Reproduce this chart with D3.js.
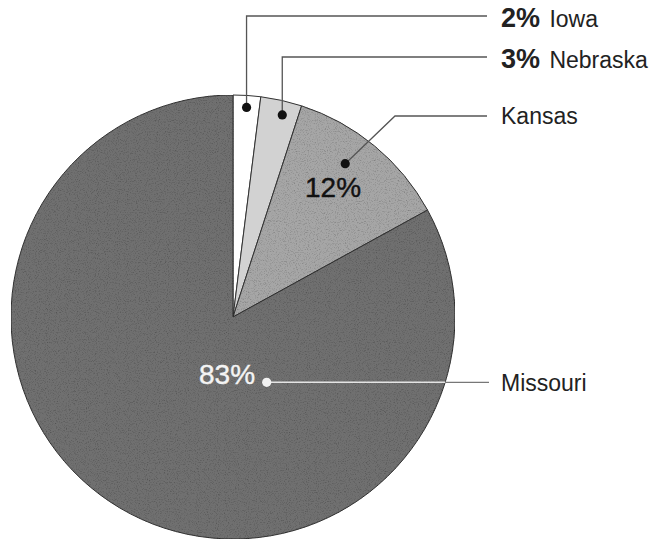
<!DOCTYPE html>
<html>
<head>
<meta charset="utf-8">
<script src="https://cdn.jsdelivr.net/npm/d3@7"></script>
<style>
  body { margin: 0; background: #fff; }
  text { font-family: "Liberation Sans", Arial, sans-serif; }
</style>
</head>
<body>
<div id="chart"></div>
<script>
// Data
const states = ["Iowa", "Nebraska", "Kansas", "Missouri"];
const shares = [2, 3, 12, 83];
const fills = ["#ffffff", "#d2d2d2", "#a6a6a6", "#6f6f6f"];

const width = 654, height = 542;
const cx = 233, cy = 317, radius = 222;

const svg = d3.select("#chart").append("svg")
    .attr("width", width)
    .attr("height", height);

const data = states.map((s, i) => ({ state: s, value: shares[i], fill: fills[i] }));

const pie = d3.pie().sort(null).value(d => d.value);
const arc = d3.arc().innerRadius(0).outerRadius(radius);
const arcs = pie(data);

// paper-like grain for the printed look
const defs = svg.append("defs");
const grain = defs.append("filter").attr("id", "grain").attr("x", 0).attr("y", 0).attr("width", 1).attr("height", 1);
grain.append("feTurbulence").attr("type", "fractalNoise").attr("baseFrequency", 0.9).attr("numOctaves", 2).attr("seed", 3).attr("result", "noise");
grain.append("feColorMatrix").attr("in", "noise").attr("type", "matrix")
    .attr("values", "0 0 0 0 0  0 0 0 0 0  0 0 0 0 0  0 0 0 -1.1 0.55").attr("result", "dark");
grain.append("feComposite").attr("in", "dark").attr("in2", "SourceGraphic").attr("operator", "in").attr("result", "spots");
grain.append("feMerge").selectAll("feMergeNode").data(["SourceGraphic", "spots"]).join("feMergeNode").attr("in", d => d);

const g = svg.append("g").attr("transform", `translate(${cx},${cy})`);

g.selectAll("path.slice")
    .data(arcs)
    .join("path")
    .attr("class", "slice")
    .attr("d", arc)
    .attr("fill", d => d.data.fill)
    .attr("filter", d => d.data.value > 5 ? "url(#grain)" : null)
    .attr("stroke", "#333")
    .attr("stroke-width", 1);

// Leader layout: anchor point (angle in degrees from 12 o'clock, distance from centre)
// and the path from that point out to the label column
const labelX = 501, lineEndX = 487;
const leaders = [
    { angle: 3.7, dist: 210, elbowY: 16, textY: 27 },
    { angle: 13.7, dist: 208, elbowY: 57, textY: 68 },
    { angle: 36.2, dist: 190, elbowX: 395, elbowY: 116, textY: 124 },
    { angle: 152.7, dist: 73.5, elbowY: null, textY: 391 }
];

function anchor(l) {
    const a = l.angle * Math.PI / 180;
    return [cx + l.dist * Math.sin(a), cy - l.dist * Math.cos(a)];
}

arcs.forEach((d, i) => {
    const l = leaders[i];
    const [ax, ay] = anchor(l);
    const isMissouri = d.data.state === "Missouri";
    let pts;
    if (isMissouri) {
        // light inside the dark slice, grey outside it
        const edgeX = cx + Math.sqrt(radius * radius - (ay - cy) * (ay - cy));
        svg.append("line").attr("x1", ax).attr("y1", ay).attr("x2", edgeX).attr("y2", ay)
            .attr("stroke", "#e4e4e4").attr("stroke-width", 1.5);
        svg.append("line").attr("x1", edgeX).attr("y1", ay).attr("x2", lineEndX + 2).attr("y2", ay)
            .attr("stroke", "#777").attr("stroke-width", 1.3);
    } else {
        pts = l.elbowX != null
            ? [[ax, ay], [l.elbowX, l.elbowY], [lineEndX, l.elbowY]]
            : [[ax, ay], [ax, l.elbowY], [lineEndX, l.elbowY]];
        svg.append("path")
            .attr("d", d3.line()(pts))
            .attr("fill", "none")
            .attr("stroke", "#555")
            .attr("stroke-width", 1.3);
    }
    svg.append("circle")
        .attr("cx", ax).attr("cy", ay).attr("r", 4.6)
        .attr("fill", isMissouri ? "#f2f2f2" : "#111");

    // label at the right
    const t = svg.append("text")
        .attr("x", labelX)
        .attr("y", l.textY)
        .attr("fill", "#222");
    if (d.data.value < 5) {
        t.append("tspan").attr("font-weight", "bold").attr("font-size", "27px").text(d.data.value + "%");
        t.append("tspan").attr("font-size", "23px").attr("dx", 3).text(" " + d.data.state);
    } else {
        t.attr("font-size", "23px").text(d.data.state);
    }
});

// percentage labels inside the larger slices
svg.append("text")
    .attr("x", 305).attr("y", 197)
    .attr("font-size", "28px")
    .attr("fill", "#111")
    .attr("stroke", "#111").attr("stroke-width", 0.4)
    .text(shares[2] + "%");

svg.append("text")
    .attr("x", 199).attr("y", 384)
    .attr("font-size", "28px")
    .attr("fill", "#f4f4f4")
    .attr("stroke", "#f4f4f4").attr("stroke-width", 0.4)
    .text(shares[3] + "%");
</script>
</body>
</html>
